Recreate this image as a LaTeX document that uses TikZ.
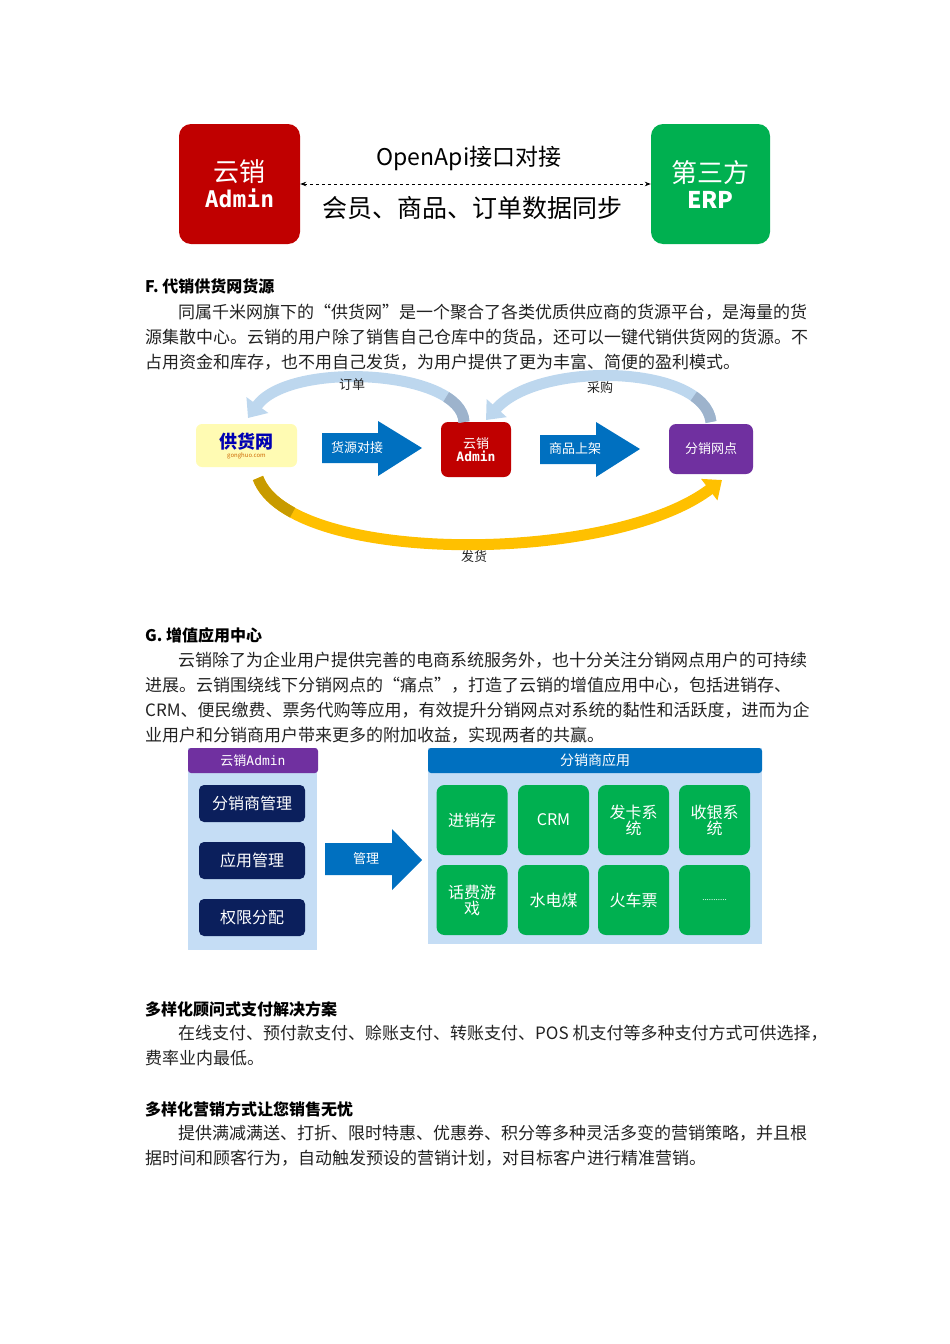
\documentclass[tikz,border=0pt]{standalone}
\usepackage{fontspec}
\setmainfont{Noto Sans CJK SC}
\newfontfamily\monof{DejaVu Sans Mono}
\usetikzlibrary{arrows.meta}
\definecolor{redb}{HTML}{C00000}
\definecolor{greenb}{HTML}{00B050}
\definecolor{purp}{HTML}{7030A0}
\definecolor{blueb}{HTML}{0070C0}
\definecolor{navy}{HTML}{0B1F5C}
\definecolor{lblue}{HTML}{C5DDF5}
\definecolor{txt}{HTML}{222222}
\definecolor{cl}{HTML}{BDD7EE}
\definecolor{cd}{HTML}{9DB3CC}
\definecolor{gl}{HTML}{FFC000}
\definecolor{gd}{HTML}{C89B00}
\tikzset{
  body/.style={anchor=west,font=\fontsize{17}{19}\selectfont,text=txt,inner sep=0},
  head/.style={anchor=west,font=\fontsize{16}{18}\selectfont\bfseries,inner sep=0},
  bigbox/.style={rounded corners=12pt,text=white,align=center,minimum width=121pt,minimum height=120pt,font=\fontsize{26}{30}\selectfont},
  tile/.style={fill=greenb,rounded corners=8pt,text=white,align=center,minimum width=71pt,minimum height=70pt,font=\fontsize{16}{19}\selectfont,inner sep=2pt},
  navbox/.style={fill=navy,rounded corners=5pt,text=white,minimum width=106pt,minimum height=37pt,font=\fontsize{16}{19}\selectfont},
  blk/.style={fill=blueb},
  blabel/.style={text=white,font=\fontsize{13}{15}\selectfont},
  curv/.style={line width=11pt,-{Triangle[length=16pt,width=26pt]}},
  curvbase/.style={line width=11pt,dash pattern=on 32pt off 2000pt},
}
\begin{document}
\begin{tikzpicture}[x=1pt,y=-1pt]
\useasboundingbox (0,0) rectangle (950,1344);
% top diagram
\node[bigbox,fill=redb] (ad) at (239.5,184) {云销\\[-4pt]{\monof\bfseries\fontsize{23}{26}\selectfont Admin}};
\node[bigbox,fill=greenb,minimum width=119pt] (erp) at (710.5,184) {第三方\\[-4pt]{\bfseries\fontsize{23}{26}\selectfont ERP}};
\draw[dashed,line width=0.8pt,{Stealth[length=6pt]}-{Stealth[length=6pt]}] (ad.east) -- (erp.east-|erp.west);
\node[font=\fontsize{23}{26}\selectfont] (oa) at (469,158) {OpenApi接口对接};
\node[font=\fontsize{25}{28}\selectfont] (sync) at (472,208) {会员、商品、订单数据同步};
% section F
\node[head] (hf) at (145,286) {F. 代销供货网货源};
\node[body] at (178,312) {同属千米网旗下的“供货网”是一个聚合了各类优质供应商的货源平台，是海量的货};
\node[body] at (145,337) {源集散中心。云销的用户除了销售自己仓库中的货品，还可以一键代销供货网的货源。不};
\node[body] at (145,362) {占用资金和库存，也不用自己发货，为用户提供了更为丰富、简便的盈利模式。};
% middle diagram
\node[fill=yellow!30,rounded corners=6pt,minimum width=101pt,minimum height=43pt,align=center,inner sep=0] (gh) at (246.5,445.5)
  {{\fontsize{18}{19}\selectfont\bfseries\itshape\color{blue!70!black}供货网}\\[-3pt]{\fontsize{6}{7}\selectfont\itshape\color{orange!80!black}gonghuo.com}};
\node[fill=redb,rounded corners=7pt,minimum width=70pt,minimum height=55pt,text=white,align=center,font=\fontsize{13}{15}\selectfont] (ya) at (476,449.5) {云销\\[-2pt]{\monof\bfseries Admin}};
\node[fill=purp,rounded corners=7pt,minimum width=84pt,minimum height=50pt,text=white,font=\fontsize{13}{15}\selectfont] (fx) at (711,449) {分销网点};
\fill[blk] (322,433) -- (378,433) -- (378,421) -- (422,448) -- (378,476) -- (378,463) -- (322,463) -- cycle;
\node[blabel] (l1) at (357,448) {货源对接};
\fill[blk] (540,435) -- (596,435) -- (596,422) -- (640,449) -- (596,477) -- (596,464) -- (540,464) -- cycle;
\node[blabel] (l2) at (575,449) {商品上架};
\draw[curv,cl] (464,422) .. controls (462,370) and (290,360) .. (248,418);
\draw[curvbase,cd] (464,422) .. controls (462,370) and (290,360) .. (248,418);
\draw[curv,cl] (711,422) .. controls (705,365) and (540,360) .. (486,420);
\draw[curvbase,cd] (711,422) .. controls (705,365) and (540,360) .. (486,420);
\node[font=\fontsize{13}{15}\selectfont,text=txt] (dd) at (352,385) {订单};
\node[font=\fontsize{13}{15}\selectfont,text=txt] (cg) at (600,388) {采购};
\draw[curv,gl] (258,478) .. controls (290,565) and (610,565) .. (722,480);
\draw[curvbase,gd,dash pattern=on 50pt off 2000pt] (258,478) .. controls (290,565) and (610,565) .. (722,480);
\node[font=\fontsize{13}{15}\selectfont,text=txt] (fh) at (474,557) {发货};
% section G
\node[head] (hg) at (145,635) {G. 增值应用中心};
\node[body] at (178,660) {云销除了为企业用户提供完善的电商系统服务外，也十分关注分销网点用户的可持续};
\node[body] at (145,685) {进展。云销围绕线下分销网点的“痛点”，打造了云销的增值应用中心，包括进销存、};
\node[body] at (145,710) {CRM、便民缴费、票务代购等应用，有效提升分销网点对系统的黏性和活跃度，进而为企};
\node[body] at (145,735) {业用户和分销商用户带来更多的附加收益，实现两者的共赢。};
% bottom diagram
\fill[lblue] (188,748) rectangle (317,950);
\node[fill=purp,rounded corners=3pt,minimum width=130pt,minimum height=25pt,text=white,inner sep=0,font=\fontsize{13}{15}\selectfont] (ah) at (253,760.5) {云销{\monof Admin}};
\node[navbox] (n1) at (252,803.5) {分销商管理};
\node[navbox] (n2) at (252,860.5) {应用管理};
\node[navbox] (n3) at (252,917.5) {权限分配};
\fill[blk] (325,843) -- (392,843) -- (392,829) -- (422,860) -- (392,890) -- (392,875) -- (325,875) -- cycle;
\node[blabel] (gl) at (366,859) {管理};
\fill[lblue] (428,748) rectangle (762,944);
\node[fill=blueb,rounded corners=3pt,minimum width=334pt,minimum height=25pt,text=white,inner sep=0,font=\fontsize{14}{16}\selectfont] (rh) at (595,760.5) {分销商应用};
\node[tile] (t1) at (472,820) {进销存};
\node[tile] (t2) at (553.5,820) {CRM};
\node[tile] (t3) at (633.5,820) {发卡系\\[-3pt]统};
\node[tile] (t4) at (714.5,820) {收银系\\[-3pt]统};
\node[tile] (t5) at (472,900) {话费游\\[-3pt]戏};
\node[tile] (t6) at (553.5,900) {水电煤};
\node[tile] (t7) at (633.5,900) {火车票};
\node[tile] (t8) at (714.5,900) {\fontsize{8}{9}\selectfont ...........};
% other sections
\node[head] at (145,1009) {多样化顾问式支付解决方案};
\node[body] at (178,1033) {在线支付、预付款支付、赊账支付、转账支付、POS 机支付等多种支付方式可供选择，};
\node[body] at (145,1058) {费率业内最低。};
\node[head] at (145,1109) {多样化营销方式让您销售无忧};
\node[body] at (178,1133) {提供满减满送、打折、限时特惠、优惠券、积分等多种灵活多变的营销策略，并且根};
\node[body] at (145,1158) {据时间和顾客行为，自动触发预设的营销计划，对目标客户进行精准营销。};
\end{tikzpicture}
\end{document}
